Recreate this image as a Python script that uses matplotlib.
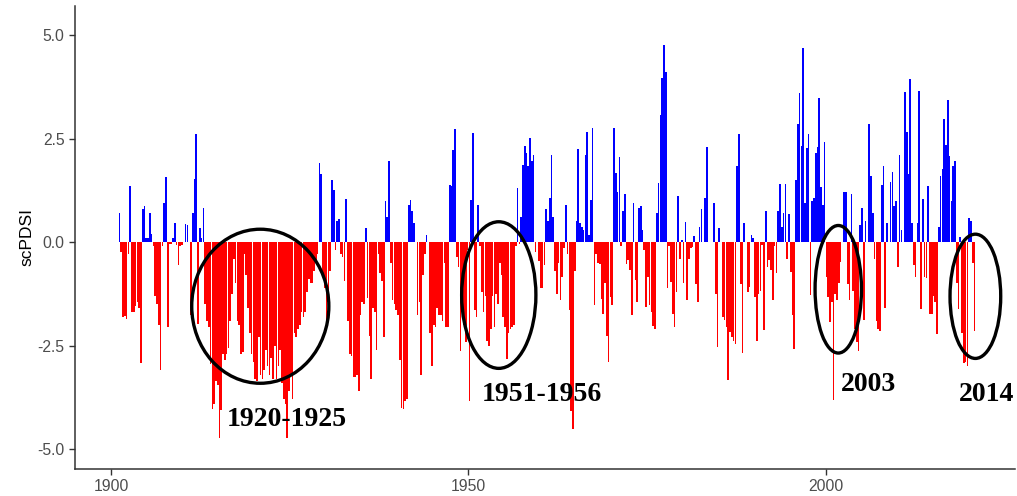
import numpy as np
import matplotlib.pyplot as plt
from matplotlib.patches import Ellipse

plt.rcParams['axes.unicode_minus'] = False

# quarterly scPDSI values (4 per year)
pdsi_1901_1920 = [0.71, -0.23, -1.8, -1.78, -1.85, -0.3, 1.36, -1.7,
                  -1.7, -1.55, -1.45, -1.6, -2.92, 0.8, 0.87, 0.1,
                  0.1, 0.7, 0.2, -0.1, -1.3, -1.5, -2.0, -3.1,
                  -0.1, 0.95, 1.56, -2.05, -0.05, -0.05, 0.1, 0.45,
                  -0.07, -0.56, -0.1, -0.07, 0.0, 0.43, 0.4, 0.0,
                  -1.77, 0.7, 1.52, 2.62, -1.97, 0.33, 0.1, 0.82,
                  -1.5, -1.9, -2.05, -2.95, -4.04, -3.9, -3.35, -3.45,
                  -4.72, -4.05, -2.7, -2.85, -2.7, -2.55, -1.9, -1.25,
                  -0.4, -1.0, -1.9, -2.0, -2.7, -2.65, -0.3, -0.8,
                  -1.6, -2.2, -2.7, -2.9, -3.3, -3.35, -2.3, -3.2]
pdsi_1921_1940 = [-3.3, -3.1, -2.6, -3.0, -3.2, -2.8, -3.3, -2.5,
                  -3.3, -3.0, -2.6, -3.4, -3.8, -3.9, -4.72, -3.6,
                  -3.2, -3.8, -2.2, -2.3, -2.1, -2.0, -1.7, -1.8,
                  -1.7, -1.2, -0.9, -1.0, -1.0, -0.7, -0.5, -0.3,
                  1.9, 1.65, -0.8, -1.1, -1.9, -1.6, -0.7, 1.5,
                  1.26, -0.2, 0.5, 0.55, -0.3, -0.35, -0.95, 1.05,
                  -1.9, -2.7, -2.75, -3.25, -3.25, -3.2, -3.6, -1.75,
                  -1.45, -1.5, 0.33, -1.35, -2.26, -3.3, -1.6, -1.7,
                  -2.6, -0.3, -0.75, -0.95, -2.3, 0.98, 0.6, 1.95,
                  -0.5, -1.4, -1.5, -1.65, -1.75, -2.86, -4.0, -4.04]
pdsi_1941_1960 = [-3.85, -3.8, 0.9, 1.02, 0.75, 0.45, 0.0, -1.77,
                  -1.45, -3.2, -0.8, -0.3, 0.17, 0.0, -2.2, -3.0,
                  -2.0, -2.05, -1.6, -1.75, -1.75, -1.9, -0.5, -2.05,
                  -2.05, 1.38, 1.35, 2.23, 2.72, -0.35, -0.6, -2.62,
                  -1.6, -2.0, -2.42, -0.2, -3.83, 1.02, 2.64, -1.65,
                  -1.8, 0.9, -0.1, -1.2, -1.7, -1.3, -2.38, -2.5,
                  -2.1, -1.3, -2.05, -1.25, -1.5, -0.5, -0.8, -1.8,
                  -2.05, -2.82, -2.2, -2.1, -2.05, -2.0, -0.1, 1.3,
                  -0.05, 0.6, 1.87, 2.31, 2.15, 1.83, 2.52, 1.95,
                  2.1, -0.25, 0.0, -0.45, -1.12, -1.1, -0.56, 0.8]
pdsi_1961_1980 = [0.5, 1.06, 2.11, 0.6, -0.7, -1.25, -0.5, -1.4,
                  -0.85, -0.15, 0.9, -0.3, -1.65, -4.08, -4.52, -0.7,
                  0.5, 2.25, 0.47, 0.37, 0.3, 2.11, 2.65, 0.17,
                  1.02, 2.76, -1.53, -0.3, -0.5, -0.52, -1.37, -1.73,
                  -1.0, -2.26, -2.89, -1.33, -1.53, 2.76, 1.67, 1.22,
                  2.05, -0.1, 0.74, 1.17, -0.52, -0.44, -0.68, -1.77,
                  0.95, -0.92, -1.45, 0.82, 0.86, 0.3, -0.2, -1.57,
                  -0.84, -1.53, -1.69, -2.02, -2.1, 0.7, 1.42, 3.06,
                  3.95, 4.76, 4.11, -1.1, -0.1, -0.96, -1.73, -2.04,
                  -1.2, 1.12, -0.4, 0.05, -1.0, 0.48, -1.39, -0.4]
pdsi_1981_2000 = [-0.15, -0.11, 0.15, -1.02, -1.45, 0.37, 0.79, 0.0,
                  1.06, 2.29, 0.0, 0.0, 0.0, 0.95, -1.25, -2.54,
                  0.33, 0.0, -1.81, -1.89, -2.05, -3.33, -2.18, -2.3,
                  -2.4, -2.46, 1.84, 2.62, -1.02, -2.69, 0.45, 0.0,
                  -1.2, -1.08, 0.17, 0.09, -1.33, -2.38, -1.25, -1.17,
                  -0.07, -2.12, 0.75, -0.6, -0.44, -0.68, -1.39, -0.1,
                  -0.74, 0.75, 1.41, 0.37, 0.71, 1.41, -0.4, 0.68,
                  -0.72, -1.77, -2.58, 1.5, 2.86, 3.61, 2.31, 4.68,
                  0.94, 2.27, 2.6, -1.29, 0.98, 1.06, 2.15, 2.3,
                  3.49, 1.33, 0.9, 2.41, -0.84, -1.33, -1.93, -1.45]
pdsi_2001_2020 = [-3.82, -1.25, -1.4, -1.0, -0.48, 0.0, 1.2, 1.2,
                  -1.02, -1.41, 1.17, -1.17, -2.1, -2.42, -2.62, 0.41,
                  0.82, -1.89, 0.52, 0.0, 2.86, 1.6, 0.7, -0.42,
                  -1.9, -2.1, -2.15, 1.37, 1.84, -1.59, 0.45, 0.0,
                  1.46, 1.68, 0.86, 1.0, -0.61, 2.11, 0.3, 0.0,
                  3.62, 2.66, 1.65, 3.93, 0.45, -0.55, -0.84, 0.47,
                  3.65, -1.61, 1.04, -0.84, -0.86, 1.36, -1.73, -1.73,
                  -1.3, -1.45, -2.22, 0.37, 1.59, 1.76, 2.96, 2.35,
                  3.43, 2.07, 1.0, 1.83, 1.95, -1.0, -1.61, 0.13,
                  -2.2, -2.93, -2.9, -2.99, 0.57, 0.5, -0.5, -2.14]
start_year = 1901

# drought periods marked on the chart
period_labels = ["1920-1925", "1951-1956", "2003", "2014"]
period_center = [(1920.84, -1.55), (1954.24, -1.28), (2001.79, -1.14), (2020.99, -1.31)]
period_size = [(19.2, 3.72), (10.4, 3.54), (6.5, 3.08), (7.1, 3.0)]
label_pos = [(1924.55, -4.29), (1960.25, -3.69), (2006.05, -3.43), (2022.57, -3.67)]

pdsi = np.array(pdsi_1901_1920 + pdsi_1921_1940 + pdsi_1941_1960 +
                pdsi_1961_1980 + pdsi_1981_2000 + pdsi_2001_2020)
t = start_year + np.arange(len(pdsi)) * 0.25 + 0.125
colors = np.where(pdsi >= 0, "blue", "red")

fig = plt.figure(figsize=(10.17, 4.96), dpi=100)
ax = fig.add_axes([75 / 1017, 27 / 496, 940 / 1017, 463 / 496])

ax.bar(t, pdsi, width=0.23, color=colors, linewidth=0)

for (cx, cy), (w, h) in zip(period_center, period_size):
    ax.add_patch(Ellipse((cx, cy), w, h, fill=False, edgecolor="black", linewidth=2.4))

for lab, (lx, ly) in zip(period_labels, label_pos):
    ax.text(lx, ly, lab, ha="center", va="center", fontsize=20,
            fontweight="bold", family="Liberation Serif", color="black")

ax.set_xlim(1894.89, 2026.54)
ax.set_ylim(-5.48, 5.70)
ax.set_xticks([1900, 1950, 2000])
ax.set_yticks([-5, -2.5, 0, 2.5, 5])
ax.set_yticklabels(["-5.0", "-2.5", "0.0", "2.5", "5.0"])
ax.set_ylabel("scPDSI", fontsize=12.5, family="Liberation Sans", labelpad=2)

for s in ["top", "right"]:
    ax.spines[s].set_visible(False)
for s in ["left", "bottom"]:
    ax.spines[s].set_color("#333333")
    ax.spines[s].set_linewidth(1.1)
ax.tick_params(length=4.5, width=1.0, color="#333333", labelcolor="#4D4D4D",
               labelsize=11.3, pad=3)
for lab in ax.get_xticklabels() + ax.get_yticklabels():
    lab.set_family("Liberation Sans")

fig.savefig("out.png", dpi=100)
